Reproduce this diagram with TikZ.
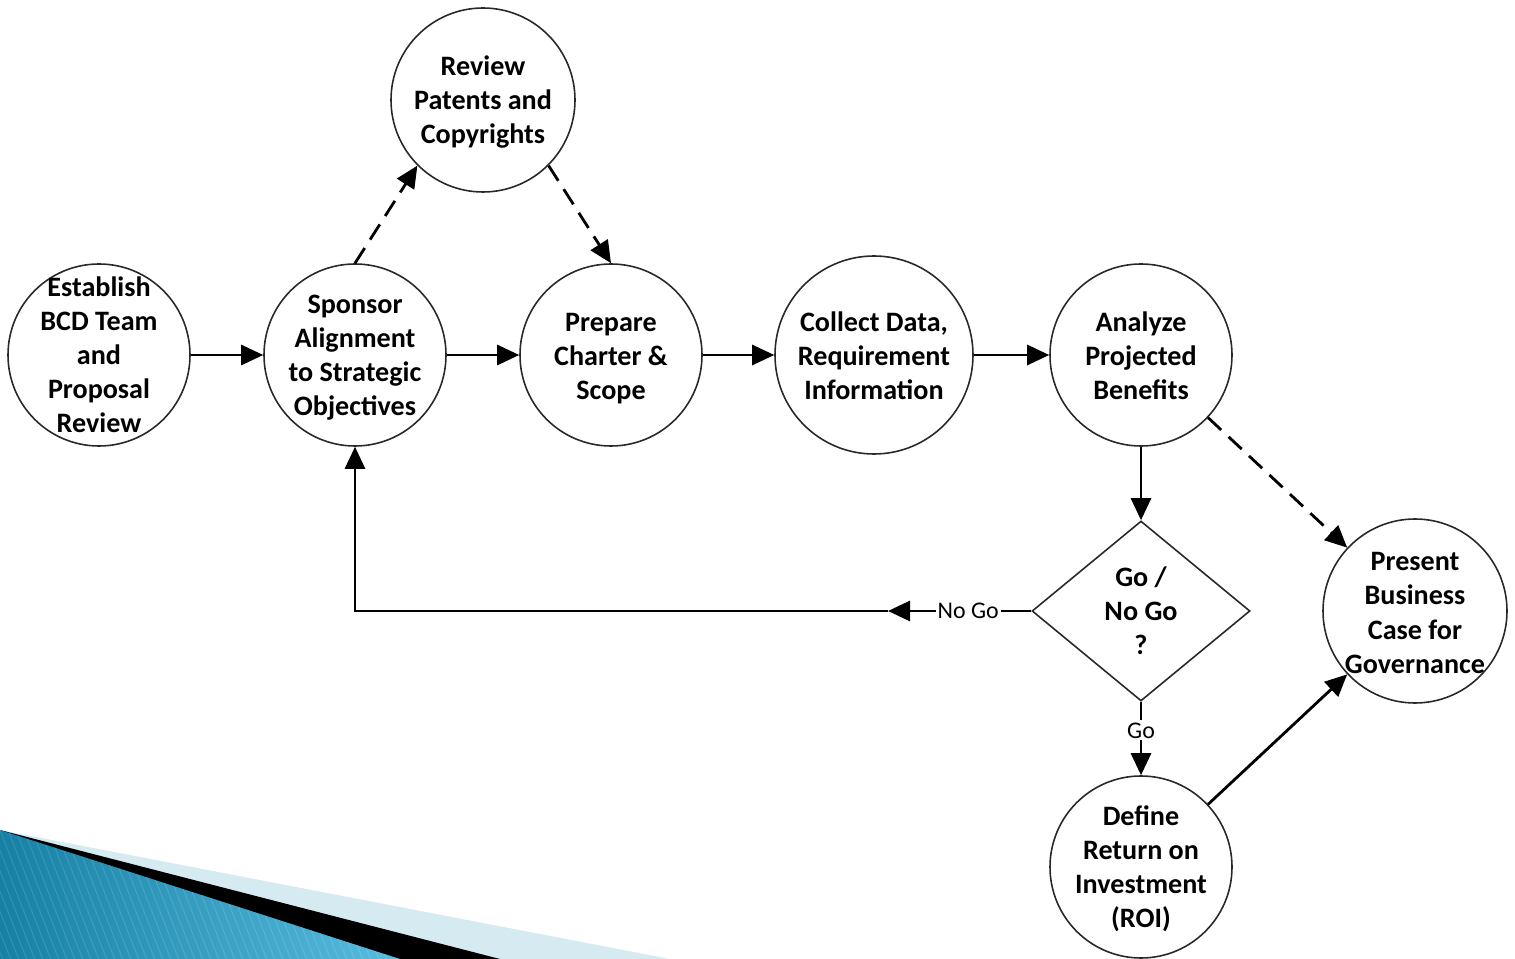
\documentclass[tikz,border=0pt]{standalone}
\usepackage{fontspec}
\setmainfont{Carlito}
\usetikzlibrary{shapes.geometric,arrows.meta}

\definecolor{swoopdark}{RGB}{22,128,165}
\definecolor{swooplight}{RGB}{88,188,222}
\definecolor{swooppale}{RGB}{214,234,242}
\definecolor{rim}{RGB}{40,40,40}

\tikzset{
  stage/.style={circle, draw=rim, line width=0.45pt, fill=white,
    minimum size=1.82cm, inner sep=0pt},
  caption/.style={align=center, inner sep=0pt,
    font=\bfseries\fontsize{8}{9.7}\selectfont},
  decision/.style={diamond, draw=rim, line width=0.45pt, fill=white,
    inner sep=0pt, minimum width=2.18cm, minimum height=1.80cm},
  flow/.style={line width=0.8pt, -{Triangle[length=2.2mm,width=2mm]}},
  optional/.style={flow, dash pattern=on 1.8mm off 1mm},
  tag/.style={fill=white, inner sep=0.6pt, font=\fontsize{6.8}{8}\selectfont},
}

\begin{document}
\begin{tikzpicture}
\useasboundingbox (0,0) rectangle (15.15,-9.59);

% corner swoosh
\fill[swooppale] (0,-8.30) -- (6.70,-9.59) -- (0,-9.59) -- cycle;
\fill[black] (0,-8.30) -- (5.00,-9.59) -- (0,-9.59) -- cycle;
\shade[left color=swoopdark, right color=swooplight]
  (0,-8.30) -- (4.00,-9.59) -- (0,-9.59) -- cycle;
\begin{scope}
  \clip (0,-8.30) -- (4.00,-9.59) -- (0,-9.59) -- cycle;
  \foreach \i in {0,...,70}
    \draw[white, opacity=0.12, line width=0.3pt]
      ({\i*0.08-1},-8.2) -- ++(0.55,-1.4);
\end{scope}

% process stages
\node[stage] (est) at (0.99,-3.55) {};
\node[caption] (est-t) at (est) {Establish\\BCD Team\\and\\Proposal\\Review};
\node[stage] (sp) at (3.55,-3.55) {};
\node[caption, yshift=-0.03cm] (sp-t) at (sp) {Sponsor\\Alignment\\to Strategic\\Objectives};
\node[stage, minimum size=1.84cm] (rv) at (4.83,-1.00) {};
\node[caption, yshift=-0.02cm] (rv-t) at (rv) {Review\\Patents and\\Copyrights};
\node[stage] (pc) at (6.11,-3.55) {};
\node[caption, yshift=-0.035cm] (pc-t) at (pc) {Prepare\\Charter \&\\Scope};
\node[stage, minimum size=1.98cm] (cd) at (8.74,-3.55) {};
\node[caption, yshift=-0.01cm] (cd-t) at (cd) {Collect Data,\\Requirement\\Information};
\node[stage] (an) at (11.41,-3.55) {};
\node[caption, yshift=-0.01cm] (an-t) at (an) {Analyze\\Projected\\Benefits};
\node[decision] (dm) at (11.41,-6.11) {};
\node[caption] (dm-t) at (dm) {Go /\\No Go\\?};
\node[stage, minimum size=1.84cm] (pr) at (14.15,-6.11) {};
\node[caption, yshift=-0.02cm] (pr-t) at (pr) {Present\\Business\\Case for\\Governance};
\node[stage] (roi) at (11.41,-8.67) {};
\node[caption, yshift=-0.02cm] (roi-t) at (roi) {Define\\Return on\\Investment\\(ROI)};

% connectors
\draw[flow] (est) -- (sp);
\draw[flow] (sp) -- (pc);
\draw[flow] (pc) -- (cd);
\draw[flow] (cd) -- (an);
\draw[optional] (sp.north) -- (rv.south west);
\draw[optional] (rv.south east) -- (pc.north);
\draw[flow] (an) -- (dm);
\draw[optional] (an) -- (pr);
\draw[flow] (roi) -- (pr);

\coordinate (ng) at (8.88,-6.11);
\draw[flow] (dm.west) -- node[tag, pos=0.44] (ng-t) {No Go} (ng);
\draw[flow] (ng) -| (sp.south);
\draw[flow] (dm.south) -- node[tag, pos=0.39] (go-t) {Go} (roi.north);
\end{tikzpicture}
\end{document}
